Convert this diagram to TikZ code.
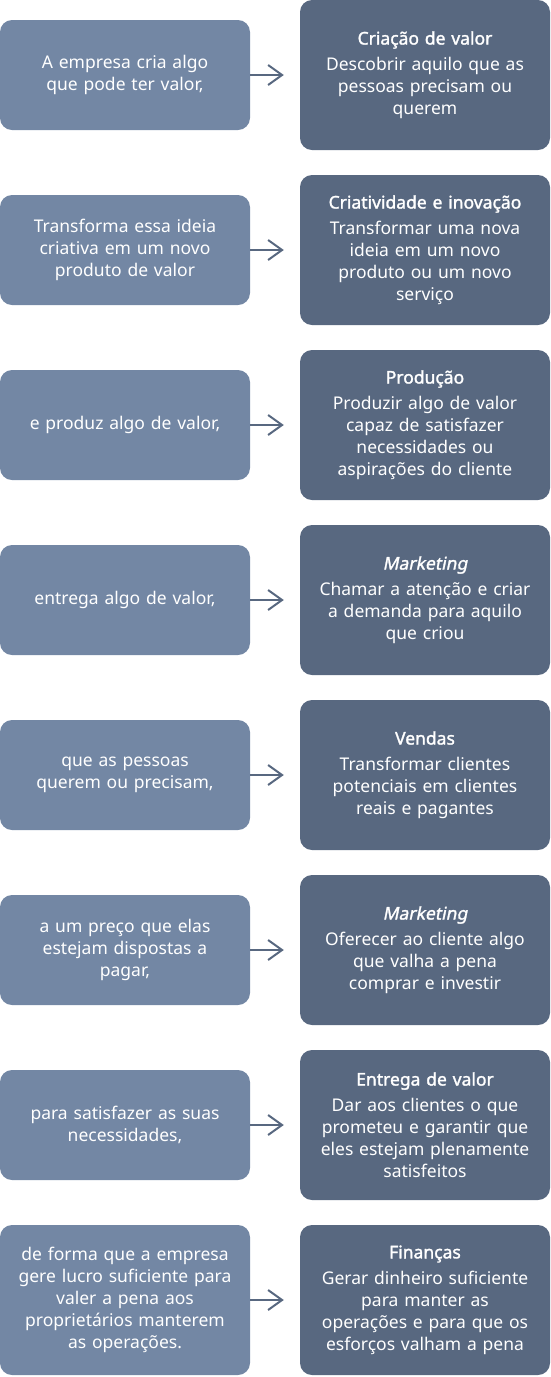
\documentclass[tikz,border=0pt]{standalone}
\usepackage{fontspec}
\setmainfont[Ligatures={NoCommon},AutoFakeBold=1.6]{Noto Sans}
\newfontfamily\mktfont[Ligatures={NoCommon},FakeBold=1.6,FakeSlant=0.2]{Noto Sans}
\usetikzlibrary{arrows.meta}
\definecolor{leftc}{RGB}{115,135,164}
\definecolor{rightc}{RGB}{88,104,128}
\definecolor{arrc}{RGB}{88,104,128}
\tikzset{
  lbox/.style={fill=leftc, rounded corners=12pt, minimum width=250pt, minimum height=110pt,
    text width=248pt, align=center, text=white, inner sep=0pt, font=\fontsize{17.5}{22}\selectfont},
  rbox/.style={fill=rightc, rounded corners=12pt, minimum width=250pt, minimum height=150pt,
    text width=248pt, align=center, text=white, inner sep=0pt, font=\fontsize{17.5}{22}\selectfont},
  conn/.style={draw=arrc, line width=2pt, -{Straight Barb[length=14pt,width=20pt,line width=2pt]}}
}
\newcommand{\ttlb}[1]{{\bfseries #1}\\[4pt]}
\newcommand{\ttlm}[1]{{\mktfont #1}\\[4pt]}
\begin{document}
\begin{tikzpicture}[x=1pt,y=-1pt]
\useasboundingbox (0,0) rectangle (550,1377);
% row 0
\node[lbox] (l0) at (125,75) {A empresa cria algo\\que pode ter valor,};
\node[rbox] (r0) at (425,75) {\ttlb{Criação de valor}Descobrir aquilo que as\\pessoas precisam ou\\querem};
% row 1
\node[lbox] (l1) at (125,250) {Transforma essa ideia\\criativa em um novo\\produto de valor};
\node[rbox] (r1) at (425,250) {\ttlb{Criatividade e inovação}Transformar uma nova\\ideia em um novo\\produto ou um novo\\serviço};
% row 2
\node[lbox] (l2) at (125,425) {e produz algo de valor,};
\node[rbox] (r2) at (425,425) {\ttlb{Produção}Produzir algo de valor\\capaz de satisfazer\\necessidades ou\\aspirações do cliente};
% row 3
\node[lbox] (l3) at (125,600) {entrega algo de valor,};
\node[rbox] (r3) at (425,600) {\ttlm{Marketing}Chamar a atenção e criar\\a demanda para aquilo\\que criou};
% row 4
\node[lbox] (l4) at (125,775) {que as pessoas\\querem ou precisam,};
\node[rbox] (r4) at (425,775) {\ttlb{Vendas}Transformar clientes\\potenciais em clientes\\reais e pagantes};
% row 5
\node[lbox] (l5) at (125,950) {a um preço que elas\\estejam dispostas a\\pagar,};
\node[rbox] (r5) at (425,950) {\ttlm{Marketing}Oferecer ao cliente algo\\que valha a pena\\comprar e investir};
% row 6
\node[lbox] (l6) at (125,1125) {para satisfazer as suas\\necessidades,};
\node[rbox] (r6) at (425,1125) {\ttlb{Entrega de valor}Dar aos clientes o que\\prometeu e garantir que\\eles estejam plenamente\\satisfeitos};
% row 7
\node[lbox, minimum height=150pt] (l7) at (125,1300) {de forma que a empresa\\gere lucro suficiente para\\valer a pena aos\\proprietários manterem\\as operações.};
\node[rbox] (r7) at (425,1300) {\ttlb{Finanças}Gerar dinheiro suficiente\\para manter as\\operações e para que os\\esforços valham a pena};
\foreach \i in {0,...,7}{
  \draw[conn] (l\i.east) -- ([xshift=-16pt]r\i.west);
}
\end{tikzpicture}
\end{document}
